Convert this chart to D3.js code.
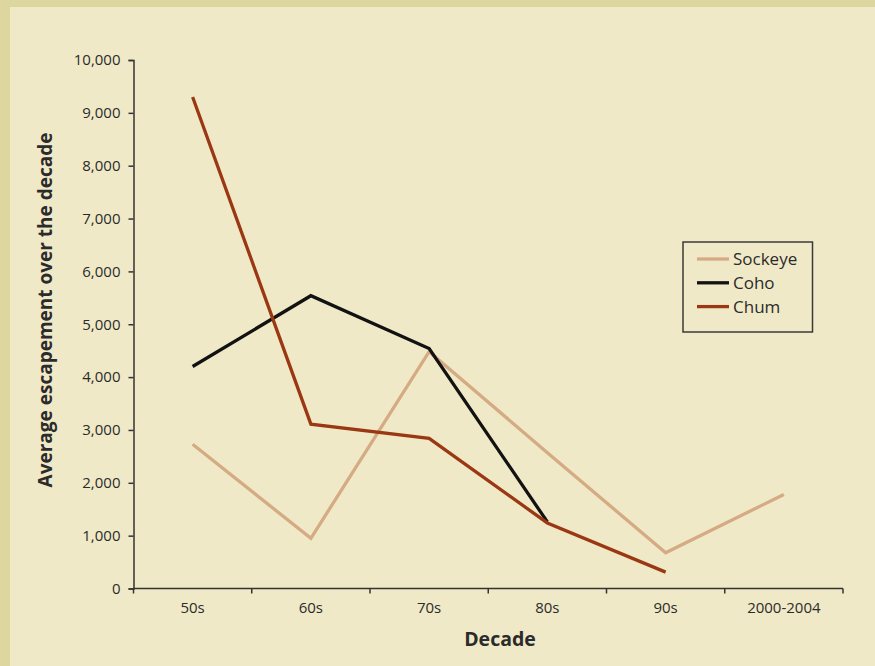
<!DOCTYPE html>
<html>
<head>
<meta charset="utf-8">
<script src="https://cdn.jsdelivr.net/npm/d3@7"></script>
<style>
  html, body { margin: 0; padding: 0; background: #ddd79f; }
  svg { display: block; }
  text { font-family: "Open Sans", "Noto Sans", sans-serif; fill: #2b2b2b; }
</style>
</head>
<body>
<svg id="chart" width="875" height="666"></svg>
<script>
// Decades on the x axis
const decades = ["50s", "60s", "70s", "80s", "90s", "2000-2004"];

// Average escapement per decade (null = no data for that decade)
const sockeye = [2730, 950, 4480, 2570, 675, 1780];
const coho    = [4200, 5540, 4540, 1260, null, null];
const chum    = [9300, 3110, 2840, 1240, 310, null];

const yTicks = [0, 1000, 2000, 3000, 4000, 5000, 6000, 7000, 8000, 9000, 10000];

const seriesNames = ["Sockeye", "Coho", "Chum"];
const seriesColors = ["#d5ab84", "#121212", "#9b3814"];
const seriesData = [sockeye, coho, chum];

const svg = d3.select("#chart");
const W = 875, H = 666;

// page panel with a darker strip along the top and left
svg.append("rect").attr("x", 0).attr("y", 0).attr("width", W).attr("height", H).attr("fill", "#ddd79f");
svg.append("rect").attr("x", 10).attr("y", 7).attr("width", W - 10).attr("height", H - 7).attr("fill", "#f0e9c7");

const plot = { left: 133.5, right: 843, top: 60, bottom: 588.5 };

const x = d3.scaleBand().domain(decades).range([plot.left, plot.right]).padding(0);
const y = d3.scaleLinear().domain([0, 10000]).range([plot.bottom, plot.top]);

const axisColor = "#333";

// y axis
const yAxis = svg.append("g")
  .attr("transform", `translate(${plot.left},0)`)
  .call(d3.axisLeft(y).tickValues(yTicks).tickSize(5).tickPadding(8).tickFormat(d3.format(",")));
yAxis.select(".domain").attr("stroke", axisColor).attr("stroke-width", 1.5);
yAxis.selectAll(".tick line").attr("stroke", axisColor).attr("stroke-width", 1.5);
yAxis.selectAll(".tick text").style("font-size", "15px").attr("fill", "#2b2b2b");

// x axis: ticks sit on the band boundaries, labels in the band centers
const xAxis = svg.append("g").attr("transform", `translate(0,${plot.bottom})`);
xAxis.append("line")
  .attr("x1", plot.left).attr("x2", plot.right)
  .attr("stroke", axisColor).attr("stroke-width", 1.5);
const bounds = decades.map(d => x(d)).concat([x(decades[decades.length - 1]) + x.bandwidth()]);
xAxis.selectAll("line.tk").data(bounds).join("line")
  .attr("class", "tk")
  .attr("x1", d => d).attr("x2", d => d)
  .attr("y1", 0).attr("y2", 5)
  .attr("stroke", axisColor).attr("stroke-width", 1.5);
xAxis.selectAll("text.lbl").data(decades).join("text")
  .attr("class", "lbl")
  .attr("x", d => x(d) + x.bandwidth() / 2)
  .attr("y", 24)
  .attr("text-anchor", "middle")
  .style("font-size", "15px")
  .text(d => d);

// axis titles
svg.append("text")
  .attr("x", 500).attr("y", 646)
  .attr("text-anchor", "middle")
  .style("font-size", "19.5px").style("font-weight", "bold")
  .attr("fill", "#1c1c1c")
  .text("Decade");
svg.append("text")
  .attr("transform", `translate(52,310) rotate(-90)`)
  .attr("text-anchor", "middle")
  .style("font-size", "19px").style("font-weight", "bold")
  .attr("fill", "#1c1c1c")
  .text("Average escapement over the decade");

// series lines (missing decades are skipped)
const line = d3.line()
  .x(d => x(d.dec) + x.bandwidth() / 2)
  .y(d => y(d.v));

seriesData.forEach((vals, i) => {
  const pts = decades.map((dec, j) => ({ dec, v: vals[j] })).filter(p => p.v != null);
  svg.append("path")
    .datum(pts)
    .attr("d", line)
    .attr("fill", "none")
    .attr("stroke", seriesColors[i])
    .attr("stroke-width", 3.3)
    .attr("stroke-linejoin", "miter");
});

// legend
const lg = svg.append("g").attr("transform", "translate(683,242)");
lg.append("rect")
  .attr("width", 129.5).attr("height", 90)
  .attr("fill", "none").attr("stroke", "#3a3a3a").attr("stroke-width", 1.5);
seriesNames.forEach((name, i) => {
  const yy = 17 + i * 23.8;
  lg.append("line")
    .attr("x1", 14).attr("x2", 46).attr("y1", yy).attr("y2", yy)
    .attr("stroke", seriesColors[i]).attr("stroke-width", 3.3);
  lg.append("text")
    .attr("x", 50).attr("y", yy + 6)
    .style("font-size", "17px")
    .text(name);
});
</script>
</body>
</html>
